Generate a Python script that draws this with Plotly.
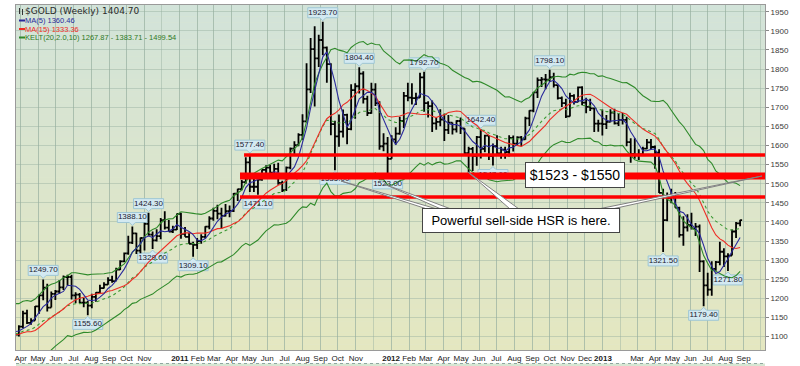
import plotly.graph_objects as go
import pandas as pd

# ---------------- data (weekly, Monday-dated; first 21 weeks are warm-up left of the window) -----
last_week = "2013-08-26"

open_px = [
    1057, 1095, 1118, 1146, 1176, 1162, 1121, 1110, 1104,
    # 2010
    1096, 1138, 1130, 1093, 1083, 1050, 1091, 1117, 1117, 1134, 1102, 1106, 1105,
    1126, 1161, 1136, 1142, 1179, 1208, 1228, 1176, 1212, 1218, 1229, 1256, 1256,
    1208, 1210, 1189, 1189, 1181, 1204, 1215, 1227, 1236, 1248, 1245, 1275, 1297,
    1318, 1346, 1370, 1325, 1358, 1395, 1367, 1352, 1363, 1405, 1385, 1375, 1380,
    # 2011
    1421, 1369, 1361, 1343, 1340, 1350, 1361, 1388, 1409, 1429, 1422, 1416, 1428,
    1429, 1474, 1486, 1504, 1556, 1492, 1492, 1511, 1536, 1542, 1529, 1539, 1502,
    1483, 1542, 1592, 1601, 1628, 1663, 1747, 1852, 1828, 1876, 1856, 1813, 1656,
    1624, 1636, 1680, 1643, 1745, 1755, 1788, 1722, 1685, 1746, 1711, 1598, 1605,
    # 2012
    1565, 1616, 1631, 1664, 1730, 1725, 1724, 1725, 1778, 1711, 1703, 1658, 1662,
    1668, 1641, 1660, 1642, 1664, 1645, 1580, 1591, 1572, 1622, 1591, 1626, 1572,
    1598, 1579, 1589, 1583, 1620, 1605, 1621, 1616, 1671, 1691, 1739, 1771, 1773,
    1772, 1779, 1758, 1724, 1711, 1676, 1730, 1714, 1752, 1712, 1701, 1697, 1657, 1657,
    # 2013
    1656, 1662, 1686, 1658, 1667, 1667, 1609, 1578, 1576, 1577, 1592, 1608,
    1596, 1581, 1476, 1405, 1462, 1469, 1437, 1366, 1386, 1392, 1383, 1388, 1297,
    1234, 1223, 1277, 1295, 1322, 1310, 1312, 1375, 1396,
]

high_px = [
    1101, 1119, 1150, 1195, 1226, 1168, 1143, 1113, 1118,
    # 2010
    1138, 1162, 1140, 1110, 1123, 1092, 1125, 1127, 1139, 1138, 1127, 1108, 1130,
    1168, 1170, 1148, 1180, 1210, 1249.7, 1238, 1218, 1222, 1248, 1260, 1262, 1262,
    1216, 1214, 1202, 1193, 1212, 1216, 1236, 1242, 1255, 1259, 1280, 1300, 1320,
    1364, 1388.1, 1372, 1359, 1398, 1424.3, 1375, 1381, 1410, 1428, 1405, 1390, 1422,
    # 2011
    1424, 1387, 1372, 1348, 1358, 1368, 1389, 1415, 1437, 1445, 1437, 1447, 1443,
    1476, 1487, 1510, 1569, 1577.4, 1520, 1516, 1537, 1548, 1549, 1552, 1555, 1508,
    1545, 1595, 1611, 1632, 1682, 1815, 1881, 1912, 1890, 1923.7, 1859, 1815, 1665,
    1681, 1694, 1683, 1760, 1763, 1804.4, 1794, 1730, 1764, 1763, 1716, 1632, 1622,
    # 2012
    1627, 1648, 1675, 1740, 1764, 1763, 1738, 1790, 1792.7, 1716, 1718, 1672, 1695,
    1683, 1680, 1660, 1666, 1673, 1645, 1597, 1596, 1625, 1642.4, 1628, 1627, 1605,
    1627, 1597, 1597, 1627, 1626, 1624, 1625, 1675, 1692, 1740, 1778, 1779, 1787,
    1798.1, 1790, 1758, 1728, 1722, 1738, 1734, 1754, 1755, 1725, 1722, 1698, 1667, 1694,
    # 2013
    1680, 1695, 1696, 1684, 1685, 1675, 1619, 1619, 1590, 1597, 1617, 1617,
    1600, 1590, 1487, 1477, 1487, 1478, 1440, 1415, 1420, 1424, 1397, 1393, 1300,
    1267, 1297, 1298, 1348, 1331, 1318, 1380, 1400, 1406,
]

low_px = [
    1040, 1088, 1112, 1137, 1160, 1118, 1106, 1075, 1095,
    # 2010
    1096, 1124, 1091, 1075, 1045, 1050, 1090, 1096, 1115, 1100, 1100, 1088, 1100,
    1122, 1133, 1131, 1142, 1160, 1195, 1166, 1176, 1196, 1212, 1222, 1234, 1197,
    1187, 1187, 1177, 1155.6, 1174, 1191, 1212, 1226, 1236, 1241, 1245, 1274, 1295,
    1314, 1342, 1316, 1318, 1325, 1364, 1329, 1349, 1355, 1380, 1375, 1371, 1379,
    # 2011
    1356, 1361, 1342, 1309.1, 1329, 1343, 1357, 1381, 1403, 1407, 1382, 1414, 1412,
    1426, 1455, 1483, 1500, 1478, 1478, 1471.1, 1508, 1522, 1513, 1517, 1497, 1478,
    1481, 1538, 1576, 1598, 1615, 1660, 1737, 1702, 1805, 1836, 1764, 1627, 1535,
    1597, 1621, 1603, 1640, 1670, 1736, 1710, 1677, 1683, 1703, 1589, 1585, 1523,
    # 2012
    1565, 1602, 1628, 1646, 1716, 1707, 1706, 1725, 1688, 1673, 1635, 1641, 1650,
    1612, 1630, 1629, 1634, 1630, 1576, 1527, 1533, 1547, 1566, 1582, 1562, 1547.6,
    1577, 1565, 1565, 1571, 1584, 1600, 1598, 1615, 1651, 1687, 1724, 1753, 1747,
    1766, 1752, 1720, 1701, 1672, 1676, 1707, 1713, 1705, 1684, 1690, 1635, 1636, 1626,
    # 2013
    1643, 1661, 1655, 1651, 1655, 1598, 1555, 1565, 1562, 1575, 1590, 1590,
    1539, 1476, 1321.5, 1402, 1449, 1437, 1359, 1338, 1375, 1380, 1363, 1269, 1179.4,
    1207, 1207, 1272, 1287, 1282, 1271.8, 1312, 1358, 1389,
]

close_px = [
    1095, 1118, 1146, 1176, 1162, 1121, 1110, 1104, 1096,
    # 2010
    1138, 1130, 1093, 1083, 1050, 1091, 1117, 1117, 1134, 1102, 1106, 1105, 1126,
    1161, 1136, 1142, 1179, 1208, 1228, 1176, 1212, 1218, 1229, 1256, 1256, 1208,
    1210, 1189, 1189, 1181, 1204, 1215, 1227, 1236, 1248, 1245, 1275, 1297, 1318,
    1346, 1370, 1325, 1358, 1395, 1367, 1352, 1363, 1405, 1385, 1375, 1380, 1421,
    # 2011
    1369, 1361, 1343, 1340, 1350, 1361, 1388, 1409, 1429, 1422, 1416, 1428, 1429,
    1474, 1486, 1504, 1556, 1492, 1492, 1511, 1536, 1542, 1529, 1539, 1502, 1483,
    1542, 1592, 1601, 1628, 1663, 1747, 1852, 1828, 1876, 1856, 1813, 1656, 1624,
    1636, 1680, 1643, 1745, 1755, 1788, 1722, 1685, 1746, 1711, 1598, 1605, 1565,
    # 2012
    1616, 1631, 1664, 1730, 1725, 1724, 1725, 1778, 1711, 1703, 1658, 1662, 1668,
    1641, 1660, 1642, 1664, 1645, 1580, 1591, 1572, 1622, 1591, 1626, 1572, 1598,
    1579, 1589, 1583, 1620, 1605, 1621, 1616, 1671, 1691, 1739, 1771, 1773, 1772,
    1779, 1758, 1724, 1711, 1676, 1730, 1714, 1752, 1712, 1701, 1697, 1657, 1657, 1656,
    # 2013
    1662, 1686, 1658, 1667, 1667, 1609, 1578, 1576, 1577, 1592, 1608, 1596,
    1581, 1476, 1405, 1462, 1469, 1437, 1366, 1386, 1392, 1383, 1388, 1297, 1234,
    1223, 1277, 1295, 1322, 1310, 1312, 1375, 1396, 1404.7,
]

# x tick labels (month starts)
tick_dates = [
    "2010-04-01", "2010-05-01", "2010-06-01", "2010-07-01", "2010-08-01", "2010-09-01",
    "2010-10-01", "2010-11-01",
    "2011-01-01", "2011-02-01", "2011-03-01", "2011-04-01", "2011-05-01", "2011-06-01",
    "2011-07-01", "2011-08-01", "2011-09-01", "2011-10-01", "2011-11-01",
    "2012-01-01", "2012-02-01", "2012-03-01", "2012-04-01", "2012-05-01", "2012-06-01",
    "2012-07-01", "2012-08-01", "2012-09-01", "2012-10-01", "2012-11-01", "2012-12-01",
    "2013-01-01", "2013-03-01", "2013-04-01", "2013-05-01", "2013-06-01", "2013-07-01",
    "2013-08-01", "2013-09-01",
]
tick_text = [
    "Apr", "May", "Jun", "Jul", "Aug", "Sep", "Oct", "Nov",
    "<b>2011</b>", "Feb", "Mar", "Apr", "May", "Jun", "Jul", "Aug", "Sep", "Oct", "Nov",
    "<b>2012</b>", "Feb", "Mar", "Apr", "May", "Jun", "Jul", "Aug", "Sep", "Oct", "Nov", "Dec",
    "<b>2013</b>", "Mar", "Apr", "May", "Jun", "Jul", "Aug", "Sep",
]
y_ticks = list(range(1100, 1951, 50))

# swing-point price labels
label_dates = ["2010-05-10", "2010-07-26", "2010-10-11", "2010-11-08", "2010-11-15", "2011-01-24",
               "2011-05-02", "2011-05-16", "2011-09-05", "2011-09-26", "2011-11-07", "2011-12-26",
               "2012-02-27", "2012-06-04", "2012-06-25", "2012-10-01", "2013-04-15", "2013-06-24",
               "2013-08-05"]
label_prices = [1249.7, 1155.6, 1388.1, 1424.3, 1329.0, 1309.1,
                1577.4, 1471.1, 1923.7, 1535.0, 1804.4, 1523.0,
                1792.7, 1642.4, 1547.6, 1798.1, 1321.5, 1179.4,
                1271.8]
label_above = [True, False, True, True, False, False,
               True, False, True, False, True, False,
               True, True, False, True, False, False,
               False]

# resistance zone lines
hsr_levels = [1575, 1520, 1465]
hsr_widths = [3.5, 7, 3.5]
hsr_start = ["2011-04-22", "2011-04-15", "2011-04-15"]

# ---------------- layout constants ----------------
W, H = 800, 366
ML, MR, MT, MB = 16, 35, 5, 16
PW, PH = W - ML - MR, H - MT - MB
X_RANGE = ["2010-03-24", "2013-10-08"]
Y_RANGE = [1065, 1967.5]
FONT = "Liberation Sans, Arial, sans-serif"


def P(x, y):
    """pixel -> paper coords"""
    return (x - ML) / PW, (H - MB - y) / PH


dates = pd.date_range(end=last_week, periods=len(close_px), freq="W-MON")
c = pd.Series(close_px, dtype=float)
hi = pd.Series(high_px, dtype=float)
lo = pd.Series(low_px, dtype=float)

ma5 = c.rolling(5).mean()
ma15 = c.rolling(15).mean()
ema20 = c.ewm(span=20, adjust=False).mean()
pc = c.shift(1)
tr = pd.concat([hi - lo, (hi - pc).abs(), (lo - pc).abs()], axis=1).max(axis=1)
atr10 = tr.ewm(alpha=1 / 10, adjust=False).mean()
k_up = ema20 + 2 * atr10
k_dn = ema20 - 2 * atr10

fig = go.Figure()
fig.add_trace(go.Ohlc(x=dates, open=open_px, high=high_px, low=low_px, close=close_px,
                      increasing=dict(line=dict(color="black", width=1.8)),
                      decreasing=dict(line=dict(color="black", width=1.8)),
                      tickwidth=0.5, hoverinfo="skip", showlegend=False))
KG = "#2f8a2a"
for s, col, dash in [(k_up, KG, "solid"), (k_dn, KG, "solid"), (ema20, "#3d9a35", "dot"),
                     (ma15, "#ee2d25", "solid"), (ma5, "#2a2a9c", "solid")]:
    fig.add_trace(go.Scatter(x=dates, y=s, mode="lines", line=dict(color=col, width=1.1, dash=dash),
                             hoverinfo="skip", showlegend=False))

# price label texts
ppp = (Y_RANGE[1] - Y_RANGE[0]) / PH
lab_y = [p + (9 * ppp if a else -9 * ppp) for p, a in zip(label_prices, label_above)]
fig.add_trace(go.Scatter(x=label_dates, y=lab_y, mode="text",
                         text=[f"{p:.2f}" for p in label_prices],
                         textfont=dict(family=FONT, size=8, color="#1c2030"),
                         textposition="middle center", hoverinfo="skip", showlegend=False))

shapes = []
# gradient background
N = 60
top_c, bot_c = (210, 227, 217), (228, 231, 192)
for i in range(N):
    t = (i + 0.5) / N
    col = tuple(round(bot_c[j] * (1 - t) + top_c[j] * t) for j in range(3))
    shapes.append(dict(type="rect", xref="paper", yref="paper", x0=0, x1=1, y0=i / N, y1=(i + 1) / N,
                       fillcolor="rgb(%d,%d,%d)" % col, line=dict(width=0), layer="below"))
# lower panel sliver
y_a = P(0, 363.5)[1]
shapes.append(dict(type="rect", xref="paper", yref="paper", x0=0, x1=1, y0=P(0, 370)[1], y1=y_a,
                   fillcolor="#d6e6d2", line=dict(width=0), layer="above"))
shapes.append(dict(type="line", xref="paper", yref="paper", x0=0, x1=1, y0=y_a, y1=y_a,
                   line=dict(color="#8fa8a0", width=1, dash="dot"), layer="above"))

# label boxes
for d, p, a in zip(label_dates, label_prices, label_above):
    s = 1 if a else -1
    path = (f"M -15 {4*s} L -3 {4*s} L 0 {1*s} L 3 {4*s} L 15 {4*s} "
            f"L 15 {14*s} L -15 {14*s} Z")
    shapes.append(dict(type="path", xref="x", yref="y", xsizemode="pixel", ysizemode="pixel",
                       xanchor=d, yanchor=p, path=path, fillcolor="#d3e9f1",
                       line=dict(color="#9ec6d4", width=1), layer="between"))

# red HSR lines
for lvl, w, st in zip(hsr_levels, hsr_widths, hsr_start):
    shapes.append(dict(type="line", xref="x", yref="y", x0=st, x1=X_RANGE[1], y0=lvl, y1=lvl,
                       line=dict(color="#ff0000", width=w), layer="above"))

# callout wedges
wedges = [((427, 209), (437, 209), (341, 181)),
          ((441, 209), (451, 209), (384, 184)),
          ((510, 209), (519, 209), (468, 172)),
          ((598, 209), (612, 209), (762, 176))]
for a, b, tip in wedges:
    pa, pb, pt = P(*a), P(*b), P(*tip)
    shapes.append(dict(type="path", xref="paper", yref="paper",
                       path=f"M {pa[0]} {pa[1]} L {pt[0]} {pt[1]} L {pb[0]} {pb[1]} Z",
                       fillcolor="white", line=dict(color="#808080", width=1), layer="above"))

# legend marks
for yy, col in [(20.5, "#2a2a9c"), (29, "#ee2d25"), (37.5, "#2f8a2a")]:
    a, b = P(19, yy), P(25, yy)
    shapes.append(dict(type="line", xref="paper", yref="paper", x0=a[0], x1=b[0], y0=a[1], y1=b[1],
                       line=dict(color=col, width=2), layer="above"))
for xx, y0, y1 in [(19.5, 8, 14), (22.5, 9, 15)]:
    a, b = P(xx, y0), P(xx, y1)
    shapes.append(dict(type="line", xref="paper", yref="paper", x0=a[0], x1=b[0], y0=a[1], y1=b[1],
                       line=dict(color="#333", width=1), layer="above"))

annotations = []
legend_lines = [("$GOLD (Weekly) 1404.70", 11, "#2a2a2a", 9, "DejaVu Sans"),
                ("MA(5) 1360.46", 20.5, "#2a2a9c", 7.5, FONT),
                ("MA(15) 1333.36", 29, "#ee2d25", 7.5, FONT),
                ("KELT(20,2.0,10) 1267.87 - 1383.71 - 1499.54", 37.5, "#2f7a25", 7.5, FONT)]
for txt, yy, col, sz, fam in legend_lines:
    px_, py_ = P(24, yy)
    annotations.append(dict(text=txt, x=px_, y=py_, xref="paper", yref="paper", xanchor="left",
                            yanchor="middle", showarrow=False, borderpad=0,
                            font=dict(family=fam, size=sz, color=col)))

bx, by = P(575, 175)
annotations.append(dict(text="$1523 - $1550", x=bx, y=by, xref="paper", yref="paper",
                        xanchor="center", yanchor="middle", showarrow=False, width=94, height=20,
                        bgcolor="white", bordercolor="#444", borderwidth=1, borderpad=2,
                        font=dict(family=FONT, size=14, color="black")))
bx, by = P(521, 220.5)
annotations.append(dict(text="Powerful sell-side HSR is here.", x=bx, y=by, xref="paper", yref="paper",
                        xanchor="center", yanchor="middle", showarrow=False, width=192, height=19,
                        bgcolor="white", bordercolor="#444", borderwidth=1, borderpad=2,
                        font=dict(family=FONT, size=13, color="black")))

GRID = "rgba(150,175,160,0.45)"
fig.update_layout(
    width=W, height=H, margin=dict(l=ML, r=MR, t=MT, b=MB, autoexpand=False),
    paper_bgcolor="white", plot_bgcolor="#dde6cf",
    showlegend=False, shapes=shapes, annotations=annotations,
    xaxis=dict(type="date", range=X_RANGE, rangeslider=dict(visible=False),
               tickmode="array", tickvals=tick_dates, ticktext=tick_text, tickangle=0,
               automargin=False,
               tickfont=dict(family=FONT, size=8, color="#1a1a1a"), ticks="",
               showgrid=True, gridcolor=GRID, gridwidth=1,
               minor=dict(dtick="M1", tick0="2010-01-01", showgrid=True, gridcolor=GRID),
               showline=True, linecolor="#9a9a9a", mirror=True, zeroline=False),
    yaxis=dict(range=Y_RANGE, side="right", tickmode="array", tickvals=y_ticks, automargin=False,
               tickfont=dict(family=FONT, size=8, color="#3a3a3a"), ticks="outside", ticklen=3,
               tickcolor="#888", showgrid=True, gridcolor=GRID, gridwidth=1,
               showline=True, linecolor="#9a9a9a", mirror=True, zeroline=False),
)
fig.write_html("out.html", config={"displayModeBar": False, "staticPlot": True},
               post_script="document.body.style.margin='0px';")
